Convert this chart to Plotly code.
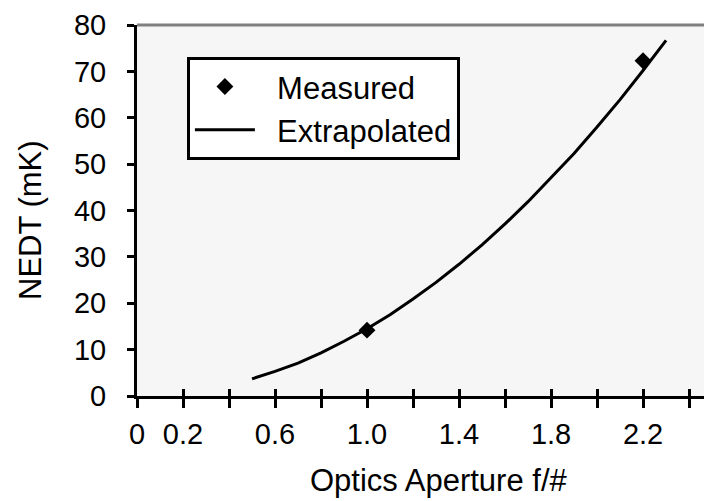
import plotly.graph_objects as go

# Data
measured_x = [1.0, 2.2]
measured_y = [14.2, 72.3]

extrap_x = [0.5, 0.6, 0.7, 0.8, 0.9, 1.0, 1.1, 1.2, 1.3, 1.4, 1.5, 1.6, 1.7, 1.8, 1.9, 2.0, 2.1, 2.2, 2.3]
extrap_y = [3.7, 5.3, 7.1, 9.3, 11.8, 14.5, 17.5, 20.9, 24.5, 28.4, 32.6, 37.1, 41.9, 47.0, 52.3, 58.0, 63.9, 70.2, 76.7]

x_tickvals = [0, 0.2, 0.4, 0.6, 0.8, 1.0, 1.2, 1.4, 1.6, 1.8, 2.0, 2.2, 2.4]
x_ticktext = ["0", "0.2", "", "0.6", "", "1.0", "", "1.4", "", "1.8", "", "2.2", ""]
y_tickvals = [0, 10, 20, 30, 40, 50, 60, 70, 80]

FONT = "Liberation Sans, Arial, sans-serif"
XR = [0, 2.465]
NB = "\u00a0\u00a0"

fig = go.Figure()
fig.add_trace(go.Scatter(x=measured_x, y=measured_y, mode="markers", name=NB + "Measured",
                         marker=dict(symbol="diamond", size=13, color="black")))
fig.add_trace(go.Scatter(x=extrap_x, y=extrap_y, mode="lines", name=NB + "Extrapolated",
                         line=dict(color="black", width=3)))

fig.update_layout(
    width=704, height=501,
    margin=dict(l=137, r=0, t=25, b=105),
    paper_bgcolor="white",
    plot_bgcolor="#f6f6f6",
    font=dict(family=FONT, size=30, color="black"),
    showlegend=True,
    legend=dict(x=0.088, y=0.914, xanchor="left", yanchor="top",
                bgcolor="white", bordercolor="black", borderwidth=3,
                font=dict(size=31), itemwidth=60, tracegroupgap=0),
    xaxis=dict(range=XR, tickmode="array", tickvals=x_tickvals, ticktext=x_ticktext,
               ticks="outside", ticklen=9, tickwidth=3, tickcolor="black",
               showline=True, linewidth=3, linecolor="black",
               showgrid=False, zeroline=False, tickfont=dict(size=29), ticklabelstandoff=1),
    xaxis2=dict(range=XR, overlaying="x", anchor="y", side="bottom", tickmode="array",
                tickvals=x_tickvals, ticks="inside", ticklen=7, tickwidth=3, tickcolor="black",
                showticklabels=False, showline=False, showgrid=False, zeroline=False),
    yaxis=dict(range=[0, 80], tickmode="array", tickvals=y_tickvals,
               ticks="outside", ticklen=7, tickwidth=3, tickcolor="black",
               showline=True, linewidth=3, linecolor="black",
               showgrid=False, zeroline=False, tickfont=dict(size=29), ticklabelstandoff=15),
    shapes=[dict(type="line", xref="paper", yref="paper", x0=0, x1=1, y0=1, y1=1,
                 line=dict(color="#808080", width=3))],
    annotations=[
        dict(text="Optics Aperture f/#", xref="paper", yref="paper", x=0.5326, y=-0.228,
             xanchor="center", yanchor="middle", showarrow=False, font=dict(size=31)),
        dict(text="NEDT (mK)", xref="paper", yref="paper", x=-0.189, y=0.474, textangle=-90,
             xanchor="center", yanchor="middle", showarrow=False, font=dict(size=31)),
    ],
)
# invisible trace to anchor xaxis2
fig.add_trace(go.Scatter(x=[0], y=[0], xaxis="x2", mode="markers", marker=dict(opacity=0),
                         showlegend=False, hoverinfo="skip"))

fig.write_html("out.html")
